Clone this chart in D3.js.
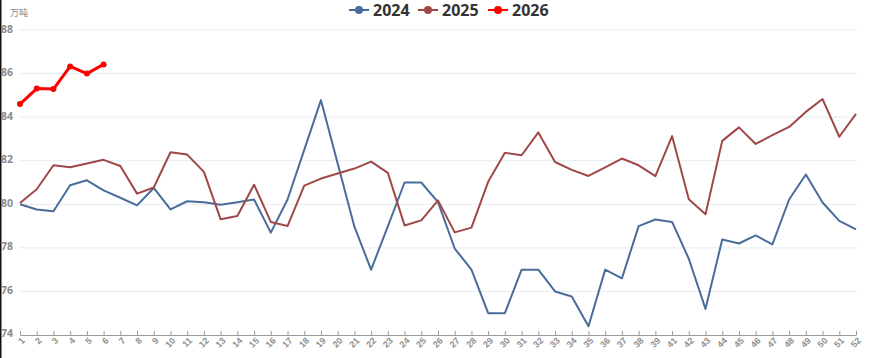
<!DOCTYPE html>
<html>
<head>
<meta charset="utf-8">
<script src="https://cdn.jsdelivr.net/npm/d3@7"></script>
<style>
  body { margin: 0; background: #fff; }
  svg { display: block; font-family: "Open Sans", "Noto Sans", sans-serif; }
</style>
</head>
<body>
<div id="chart"></div>
<script>
// weeks on the x axis (week 40 is not in the source)
var weeks = ["1","2","3","4","5","6","7","8","9","10","11","12","13","14","15","16","17","18","19","20",
  "21","22","23","24","25","26","27","28","29","30","31","32","33","34","35","36","37","38","39",
  "41","42","43","44","45","46","47","48","49","50","51","52"];

var yTicks = [74, 76, 78, 80, 82, 84, 86, 88];

var v2024 = [80.0, 79.76, 79.68, 80.87, 81.1, 80.64, 80.3, 79.95, 80.75, 79.77,
  80.14, 80.09, 79.98, 80.09, 80.22, 78.7, 80.22, 82.5, 84.78, 81.87,
  78.97, 77.0, 78.99, 81.0, 81.0, 80.1, 77.97, 77.0, 75.0, 75.0,
  77.0, 77.0, 76.0, 75.77, 74.4, 77.0, 76.6, 79.0, 79.3, 79.19,
  77.5, 75.2, 78.38, 78.2, 78.57, 78.16, 80.22, 81.37, 80.08, 79.24, 78.85];

var v2025 = [80.06, 80.69, 81.79, 81.7, 81.87, 82.04, 81.76, 80.49, 80.77, 82.39,
  82.28, 81.49, 79.31, 79.46, 80.9, 79.19, 79.0, 80.86, 81.18, 81.41,
  81.64, 81.96, 81.44, 79.03, 79.26, 80.18, 78.71, 78.93, 81.03, 82.36,
  82.25, 83.3, 81.94, 81.58, 81.3, 81.69, 82.1, 81.79, 81.29, 83.13,
  80.23, 79.54, 82.91, 83.53, 82.77, 83.17, 83.55, 84.24, 84.83, 83.1, 84.15];

var v2026 = [84.6, 85.31, 85.29, 86.33, 86.0, 86.42];

var seriesNames = ["2024", "2025", "2026"];
var seriesColors = ["#4a6c9b", "#a04848", "#ff0000"];

var W = 871, H = 358;
var margin = {top: 30, right: 14, bottom: 23, left: 20};
var width = W - margin.left - margin.right,
    height = H - margin.top - margin.bottom;

var svg = d3.select("#chart")
  .append("svg")
    .attr("width", W)
    .attr("height", H);

// dark left edge seen in the reference
svg.append("rect")
  .attr("x", 0).attr("y", 0)
  .attr("width", 1.5).attr("height", H)
  .attr("fill", "#111");

var g = svg.append("g")
  .attr("transform", "translate(" + margin.left + "," + margin.top + ")");

var x = d3.scalePoint()
  .domain(weeks)
  .range([0, width - 1]);

var y = d3.scaleLinear()
  .domain([74, 88])
  .range([height, 0]);

// grid lines
g.selectAll(".grid")
  .data(yTicks.filter(function(d) { return d > 74; }))
  .enter().append("line")
    .attr("x1", 0)
    .attr("x2", width)
    .attr("y1", function(d) { return y(d); })
    .attr("y2", function(d) { return y(d); })
    .attr("stroke", "#e6ecf3")
    .attr("stroke-width", 1);

// y labels
g.selectAll(".ylab")
  .data(yTicks)
  .enter().append("text")
    .attr("x", -19)
    .attr("y", function(d) { return y(d) + (d === 74 ? 1.5 : 2.5); })
    .attr("font-size", 10.5)
    .attr("font-weight", "bold")
    .attr("fill", "#8a8a8a")
    .text(function(d) { return d; });

// unit
svg.append("text")
  .attr("x", 10)
  .attr("y", 16)
  .attr("font-size", 9)
  .attr("fill", "#888")
  .attr("font-family", "Noto Sans CJK SC, sans-serif")
  .text("万吨");

// x axis
var xAxis = g.append("g")
  .attr("transform", "translate(0," + height + ")")
  .call(d3.axisBottom(x).tickSize(-4).tickSizeOuter(0));
xAxis.select(".domain").attr("stroke", "#9a9a9a");
xAxis.selectAll(".tick line").attr("stroke", "#9a9a9a");
xAxis.selectAll(".tick text")
  .attr("font-size", 9)
  .attr("font-weight", "bold")
  .attr("fill", "#909090")
  .attr("text-anchor", "end")
  .attr("dy", 0)
  .attr("transform", "translate(3,4) rotate(-45)");

// lines
var allValues = [v2024, v2025, v2026];
var line = d3.line()
  .x(function(d, i) { return x(weeks[i]); })
  .y(function(d) { return y(d); });

allValues.forEach(function(vals, k) {
  g.append("path")
    .datum(vals)
    .attr("fill", "none")
    .attr("stroke", seriesColors[k])
    .attr("stroke-width", k === 2 ? 3 : 2)
    .attr("stroke-linejoin", "round")
    .attr("d", line);
});

// markers for 2026
g.selectAll(".dot26")
  .data(v2026)
  .enter().append("circle")
    .attr("cx", function(d, i) { return x(weeks[i]); })
    .attr("cy", function(d) { return y(d); })
    .attr("r", 3)
    .attr("fill", seriesColors[2]);

// legend
var legendX = [349, 418, 488];
var legend = svg.selectAll(".legend")
  .data(seriesNames)
  .enter().append("g")
    .attr("transform", function(d, i) { return "translate(" + legendX[i] + ",10)"; });
legend.append("line")
  .attr("x1", 0).attr("x2", 20)
  .attr("y1", 0).attr("y2", 0)
  .attr("stroke", function(d, i) { return seriesColors[i]; })
  .attr("stroke-width", 2);
legend.append("circle")
  .attr("cx", 10).attr("cy", 0).attr("r", 4)
  .attr("fill", function(d, i) { return seriesColors[i]; });
legend.append("text")
  .attr("x", 24)
  .attr("y", 6)
  .attr("font-size", 16)
  .attr("font-weight", "bold")
  .attr("fill", "#333")
  .text(function(d) { return d; });
</script>
</body>
</html>
